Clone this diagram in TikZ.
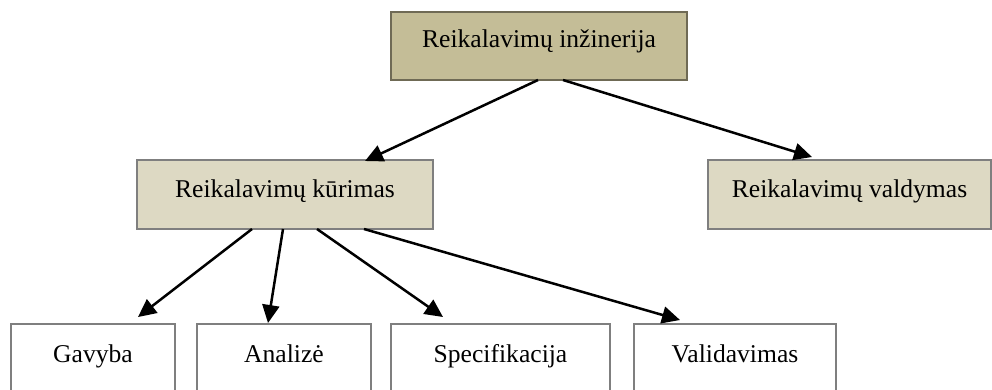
\documentclass[tikz,border=0pt]{standalone}
\usepackage{fontspec}
\setmainfont{Liberation Serif}
\usetikzlibrary{calc,arrows.meta}
\definecolor{tanDark}{HTML}{C4BD97}
\definecolor{tanLight}{HTML}{DDD9C3}
\definecolor{tanEdge}{HTML}{6F6A55}
\definecolor{greyEdge}{HTML}{7F7F7F}
\begin{document}
\begin{tikzpicture}[x=1pt,y=-1pt,
  box/.style={rectangle,anchor=north west,inner sep=0pt,outer sep=0pt,
    font=\fontsize{25.6}{30}\selectfont,text=black},
  rootbox/.style={box,fill=tanDark,draw=tanEdge,line width=1.5pt,
    text height=35pt,text depth=33pt},
  groupbox/.style={box,fill=tanLight,draw=greyEdge,line width=1.5pt,
    text height=37pt,text depth=32pt},
  leafbox/.style={box,fill=white,draw=greyEdge,line width=1.2pt,
    text height=38pt,text depth=80pt},
  arr/.style={draw=black,line width=2.5pt,
    -{Triangle[length=18pt,width=17pt]}}]
\clip (0,0) rectangle (992,389);
\fill[white] (0,0) rectangle (992,389);

% hierarchy boxes
\node[rootbox,minimum width=296pt] (root) at (391,12) {Reikalavimų inžinerija};
\node[groupbox,minimum width=296pt] (kur) at (137,160) {Reikalavimų kūrimas};
\node[groupbox,minimum width=283pt] (val) at (708,160) {Reikalavimų valdymas};

\node[leafbox,minimum width=164pt] (gav) at (11,324) {Gavyba};
\node[leafbox,minimum width=174pt] (ana) at (197,324) {Analizė};
\node[leafbox,minimum width=219pt] (spec) at (391,324) {Specifikacija};
\node[leafbox,minimum width=202pt] (vali) at (634,324) {Validavimas};

% connectors
\draw[arr] ($(root.south)+(-1,0)$) -- ($(kur.north)+(80,1)$);
\draw[arr] ($(root.south)+(24,0)$) -- ($(val.north)+(-37.5,-3)$);

\draw[arr] ($(kur.south)+(-33,0)$) -- ($(gav.north)+(45,-7)$);
\draw[arr] ($(kur.south)+(-2,0)$) -- ($(ana.north)+(-16,-1)$);
\draw[arr] ($(kur.south)+(32,0)$) -- ($(spec.north)+(-57.5,-7)$);
\draw[arr] ($(kur.south)+(79,0)$) -- ($(vali.north)+(-55,-4)$);
\end{tikzpicture}
\end{document}
